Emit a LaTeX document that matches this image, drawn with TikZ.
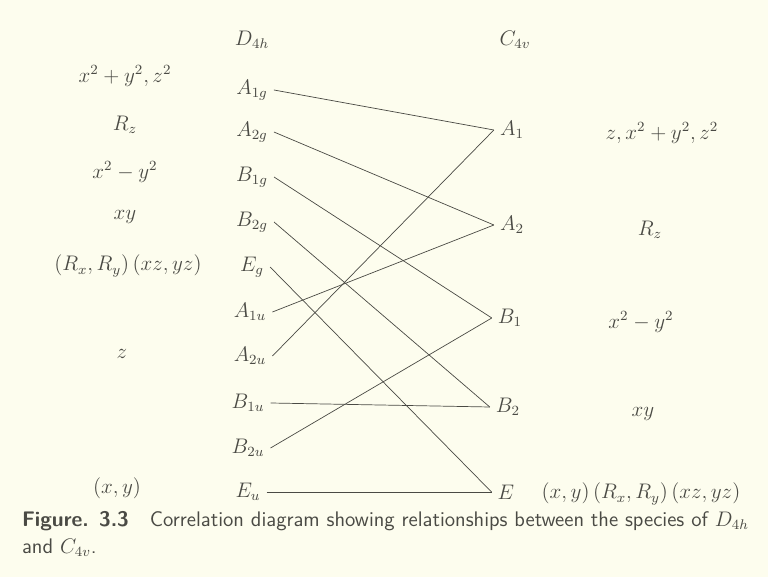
\documentclass[tikz,border=0pt]{standalone}
\usepackage{amsmath,amssymb}
\usepackage{tikz}
\usetikzlibrary{positioning, calc}
\usepackage{xcolor}
\definecolor{paper}{HTML}{FDFDEE}
\definecolor{ink}{HTML}{4A4A44}

\begin{document}
\begin{tikzpicture}[x=0.02cm, y=-0.02cm, every node/.style={font=\large, text=ink}]
  \fill[paper] (0,0) rectangle (768,577);
  \useasboundingbox (0,0) rectangle (768,577);

  % group headings
  \node (Dh) at (252,40) {$D_{4h}$};
  \node (Cv) at (515,40) {$C_{4v}$};

  % D4h species
  \node (Aog) at (252,90)  {$A_{1g}$};
  \node (Atg) at (252,132) {$A_{2g}$};
  \node (Bog) at (252,177) {$B_{1g}$};
  \node (Btg) at (252,222) {$B_{2g}$};
  \node (Eg)  at (252,267) {$E_{g}$};
  \node (Aou) at (250,312) {$A_{1u}$};
  \node (Atu) at (250,356) {$A_{2u}$};
  \node (Bou) at (248,403) {$B_{1u}$};
  \node (Btu) at (248,448) {$B_{2u}$};
  \node (Eu)  at (248,492) {$E_{u}$};

  % C4v species
  \node (Ao) at (512,130) {$A_{1}$};
  \node (At) at (512,225) {$A_{2}$};
  \node (Bo) at (510,318) {$B_{1}$};
  \node (Bt) at (508,407) {$B_{2}$};
  \node (E)  at (506,492) {$E$};

  % functions on the left
  \node (fAog) at (125,76)  {$x^2+y^2, z^2$};
  \node (fAtg) at (125,125) {$R_z$};
  \node (fBog) at (125,172) {$x^2-y^2$};
  \node (fBtg) at (125,217) {$xy$};
  \node (fEg)  at (128,266) {$(R_x, R_y)\,(xz, yz)$};
  \node (fAtu) at (122,354) {$z$};
  \node (fEu)  at (117,488) {$(x, y)$};

  % functions on the right
  \node (fAo) at (662,133) {$z, x^2+y^2, z^2$};
  \node (fAt) at (650,230) {$R_z$};
  \node (fBo) at (641,322) {$x^2-y^2$};
  \node (fBt) at (643,414) {$xy$};
  \node[inner sep=1pt] (fE) at (641,494) {$(x, y)\,(R_x, R_y)\,(xz, yz)$};

  % correlations
  \draw[ink] (Aog.east) -- (Ao.west);
  \draw[ink] (Atg.east) -- (At.west);
  \draw[ink] (Bog.east) -- (Bo.west);
  \draw[ink] (Btg.east) -- (Bt.west);
  \draw[ink] (Eg.east) -- (E.west);
  \draw[ink] (Aou.east) -- (At.west);
  \draw[ink] (Atu.east) -- (Ao.west);
  \draw[ink] (Bou.east) -- (Bt.west);
  \draw[ink] (Btu.east) -- (Bo.west);
  \draw[ink] (Eu.east) -- (E.west);

  % caption
  \node[anchor=west, font=\sffamily\large, inner sep=1pt] (cap) at (20,521)
    {\textbf{Figure. 3.3}\quad Correlation diagram showing relationships between the species of $D_{4h}$};
  \node[anchor=north west, font=\sffamily\large, inner sep=1pt] (capb) at ([yshift=-2pt]cap.south west)
    {and $C_{4v}$.};
\end{tikzpicture}
\end{document}
